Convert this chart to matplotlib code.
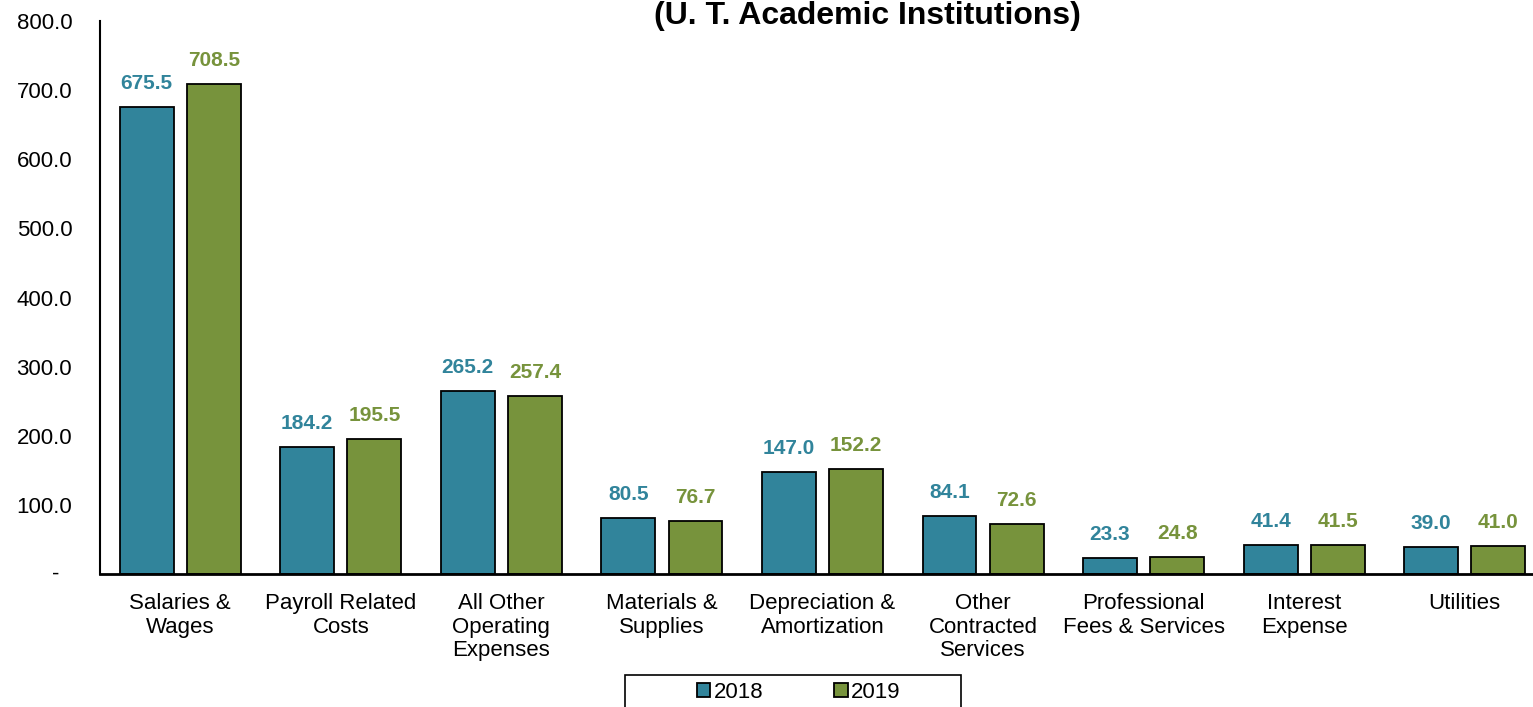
import numpy as np
import matplotlib
matplotlib.use("Agg")
import matplotlib.pyplot as plt
from matplotlib.patches import Rectangle
from matplotlib.ticker import FuncFormatter

plt.rcParams['font.family'] = ['Liberation Sans', 'DejaVu Sans']

# Expense categories and values (in millions)
categories = ["Salaries &\nWages", "Payroll Related\nCosts", "All Other\nOperating\nExpenses",
              "Materials &\nSupplies", "Depreciation &\nAmortization", "Other\nContracted\nServices",
              "Professional\nFees & Services", "Interest\nExpense", "Utilities"]
vals_2018 = [675.5, 184.2, 265.2, 80.5, 147.0, 84.1, 23.3, 41.4, 39.0]
vals_2019 = [708.5, 195.5, 257.4, 76.7, 152.2, 72.6, 24.8, 41.5, 41.0]
years = ["2018", "2019"]

c18 = "#31849B"
c19 = "#77933C"

W, H = 1533, 707
fig = plt.figure(figsize=(W / 100, H / 100), dpi=100)
ax = fig.add_axes([100 / W, 1 - 574 / H, 1445 / W, 553 / H])

x = np.arange(len(categories))
bw = 0.336
off = 0.209
b1 = ax.bar(x - off, vals_2018, bw, color=c18, edgecolor="black", linewidth=1.3, label=years[0])
b2 = ax.bar(x + off, vals_2019, bw, color=c19, edgecolor="black", linewidth=1.3, label=years[1])

for bars, vals, col in [(b1, vals_2018, c18), (b2, vals_2019, c19)]:
    for b, v in zip(bars, vals):
        ax.annotate(f"{v:.1f}", (b.get_x() + b.get_width() / 2, v), xytext=(0, 10),
                    textcoords="offset points", ha="center", va="bottom",
                    fontsize=15, fontweight="bold", color=col)

ax.set_xlim(-0.5, len(categories) - 0.5)
ax.set_ylim(0, 800)
ax.set_yticks(np.arange(0, 801, 100))
ax.yaxis.set_major_formatter(FuncFormatter(lambda v, p: "" if v == 0 else f"{v:.1f}"))
# accounting style zero: a dash set in from the right
ax.annotate("-", (0, 0), xycoords=("axes fraction", "data"), xytext=(-29, 0),
            textcoords="offset points", ha="right", va="center", fontsize=16)
ax.set_xticks(x)
ax.set_xticklabels(categories, fontsize=16, linespacing=1.15)
ax.tick_params(axis="y", labelsize=16, length=0, pad=20)
ax.tick_params(axis="x", length=0, pad=14)

for s in ["top", "right"]:
    ax.spines[s].set_visible(False)
ax.spines["left"].set_linewidth(1.5)
ax.spines["bottom"].set_linewidth(2)

fig.text(867 / W, 1 - 24 / H, "(U. T. Academic Institutions)", ha="center", va="baseline",
         fontsize=23, fontweight="bold")

# legend box (bottom edge runs off the image)
fig.add_artist(Rectangle((625 / W, -0.05), 336 / W, 0.05 + (707 - 675) / H,
                         transform=fig.transFigure, facecolor="white",
                         edgecolor="black", linewidth=1.2))
leg = fig.legend(loc="center left", bbox_to_anchor=(697 / W, 1 - 692 / H), ncol=2,
                 fontsize=16, frameon=False,
                 handlelength=0.6, handleheight=0.6, handletextpad=0.15,
                 columnspacing=3.2, borderpad=0, borderaxespad=0)

fig.savefig("out.png", dpi=100)
